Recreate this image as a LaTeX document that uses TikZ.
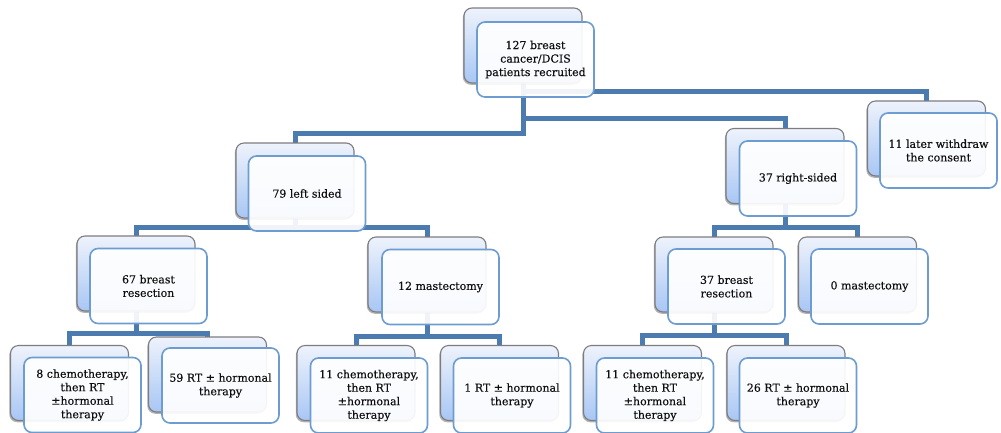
\documentclass[tikz,border=0pt]{standalone}
\usepackage{fontspec}
\setmainfont{DejaVu Serif}
\newfontfamily\boxfont[FakeBold=0.3]{DejaVu Serif}
\usetikzlibrary{shadows}
\definecolor{connc}{RGB}{76,124,175}
\definecolor{backedge}{RGB}{125,125,128}
\definecolor{backtop}{RGB}{238,243,252}
\definecolor{backbot}{RGB}{168,198,244}
\definecolor{frontedge}{RGB}{108,156,208}
\definecolor{txt}{RGB}{15,15,15}
\tikzset{
  conn/.style={draw=connc, line width=5pt, line join=miter},
  backbox/.style={rectangle, rounded corners=8pt, draw=backedge, line width=1.1pt,
    top color=backtop, bottom color=backbot, minimum width=118pt, minimum height=75pt,
    inner sep=0pt,
    drop shadow={shadow xshift=-1.2pt, shadow yshift=-1.8pt, opacity=0.3, fill=black}},
  anchorbox/.style={rectangle, minimum width=118pt, minimum height=75pt, inner sep=0pt},
  frontbox/.style={rectangle, rounded corners=8pt, draw=frontedge, line width=1.6pt,
    fill=white, fill opacity=0.92, text opacity=1, minimum width=117pt, minimum height=75pt,
    inner sep=1pt, align=center, text=txt,
    font=\boxfont\fontsize{11pt}{13.5pt}\selectfont}
}
\begin{document}
\begin{tikzpicture}[x=1pt, y=-1pt]
\useasboundingbox (0,0) rectangle (1001,432);
\clip (0,0) rectangle (1001,432);
\fill[white] (0,0) rectangle (1001,432);
% anchors of the back boxes
\node[anchorbox] (n0b) at (523,45.5) {};
\node[anchorbox] (nLb) at (295,180.5) {};
\node[anchorbox] (nRb) at (785,166) {};
\node[anchorbox] (nWb) at (926.5,138.5) {};
\node[anchorbox] (nLRb) at (136,273.5) {};
\node[anchorbox] (nLMb) at (427,274.5) {};
\node[anchorbox] (nRRb) at (714,274.5) {};
\node[anchorbox] (nRMb) at (857.5,274.5) {};
\node[anchorbox] (c1b) at (69.5,383) {};
\node[anchorbox] (r1b) at (207.5,374.5) {};
\node[anchorbox] (c2b) at (356,383) {};
\node[anchorbox] (r2b) at (499.5,383) {};
\node[anchorbox] (c3b) at (642.5,383) {};
\node[anchorbox] (r3b) at (786,383) {};
% connectors
\draw[conn] (n0b.south) -- ++(0,8) -| (nWb.north);
\draw[conn] (n0b.south) -- ++(0,35) -| (nRb.north);
\draw[conn] (n0b.south) -- ++(0,50) -| (nLb.north);
\draw[conn] (nLb.south) -- ++(0,9) -| (nLRb.north);
\draw[conn] (nLb.south) -- ++(0,9) -| (nLMb.north);
\draw[conn] (nRb.south) -- ++(0,24) -| (nRRb.north);
\draw[conn] (nRb.south) -- ++(0,24) -| (nRMb.north);
\draw[conn] (nLRb.south) -- ++(0,22) -| (c1b.north);
\draw[conn] (nLRb.south) -- ++(0,22) -| (r1b.north);
\draw[conn] (nLMb.south) -- ++(0,24) -| (c2b.north);
\draw[conn] (nLMb.south) -- ++(0,24) -| (r2b.north);
\draw[conn] (nRRb.south) -- ++(0,23) -| (c3b.north);
\draw[conn] (nRRb.south) -- ++(0,23) -| (r3b.north);
% back boxes
\foreach \p in {n0b,nLb,nRb,nWb,nLRb,nLMb,nRRb,nRMb,c1b,r1b,c2b,r2b,c3b,r3b}
  \node[backbox] at (\p) {};
% front boxes
\node[frontbox] (n0) at (535.5,59.5) {127 breast\\cancer/DCIS\\patients recruited};
\node[frontbox] (nL) at (307,193.5) {79 left sided};
\node[frontbox] (nR) at (798,178.5) {37 right-sided};
\node[frontbox] (nW) at (938.5,150.5) {11 later withdraw\\the consent};
\node[frontbox] (nLR) at (148.5,286) {67 breast\\resection};
\node[frontbox] (nLM) at (440.5,287) {12 mastectomy};
\node[frontbox] (nRR) at (726.5,286.5) {37 breast\\resection};
\node[frontbox] (nRM) at (869.5,286.5) {0 mastectomy};
\node[frontbox] (c1) at (82.5,395) {8 chemotherapy,\\then RT\\±hormonal\\therapy};
\node[frontbox] (r1) at (220.5,385.5) {59 RT ± hormonal\\therapy};
\node[frontbox] (c2) at (369,395.5) {11 chemotherapy,\\then RT\\±hormonal\\therapy};
\node[frontbox] (r2) at (512,395.5) {1 RT ± hormonal\\therapy};
\node[frontbox] (c3) at (655,395.5) {11 chemotherapy,\\then RT\\±hormonal\\therapy};
\node[frontbox] (r3) at (798,395.5) {26 RT ± hormonal\\therapy};
\end{tikzpicture}
\end{document}
